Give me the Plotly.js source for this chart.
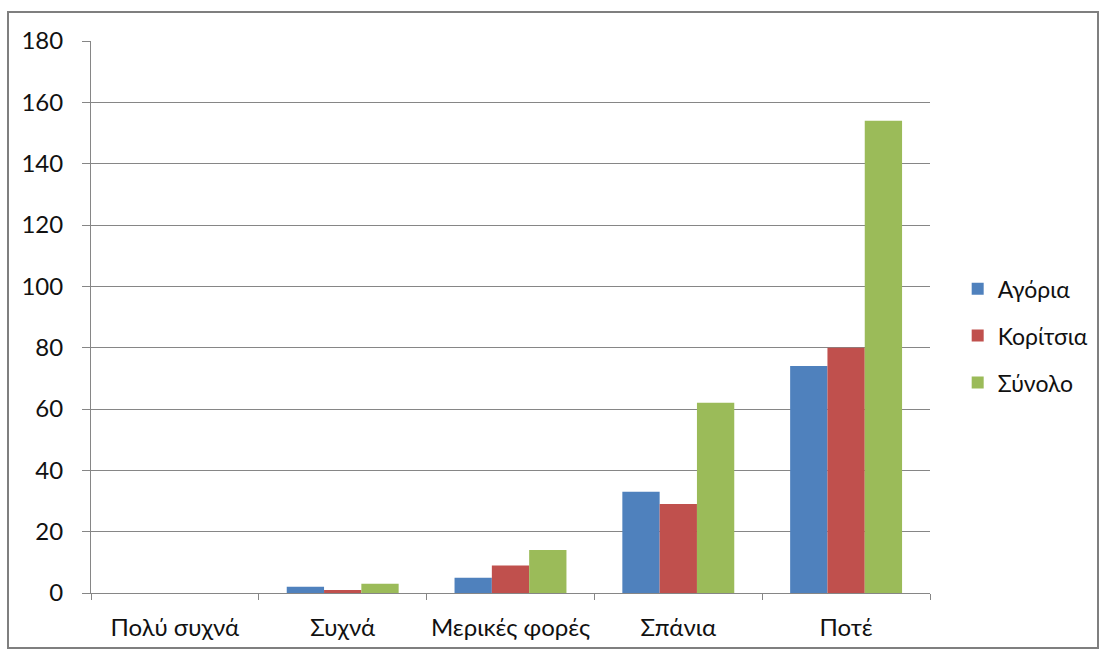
<!DOCTYPE html>
<html>
<head>
<meta charset="utf-8">
<script src="https://cdn.plot.ly/plotly-3.0.1.min.js"></script>
<style>html,body{margin:0;padding:0;background:#fff;} #chart{width:1104px;height:651px;}</style>
</head>
<body>
<div id="chart"></div>
<script>
const categories = ["Πολύ συχνά", "Συχνά", "Μερικές φορές", "Σπάνια", "Ποτέ"];
const seriesNames = ["Αγόρια", "Κορίτσια", "Σύνολο"];
const boys = [0, 2, 5, 33, 74];
const girls = [0, 1, 9, 29, 80];
const total = [0, 3, 14, 62, 154];
const colors = ["#4F81BD", "#C0504D", "#9BBB59"];
const yTicks = [0, 20, 40, 60, 80, 100, 120, 140, 160, 180];

const FONT = "Lato, 'Open Sans', sans-serif";
const FS = 24;
const data = [boys, girls, total].map((vals, i) => ({
  type: "bar",
  name: seriesNames[i],
  x: categories,
  y: vals,
  marker: {color: colors[i], line: {width: 0}},
  legendgroup: "g" + i,
  hoverinfo: "x+y+name"
}));

const layout = {
  width: 1104, height: 651,
  margin: {l: 91, r: 174, t: 41, b: 58, autoexpand: false},
  paper_bgcolor: "#fff", plot_bgcolor: "#fff",
  font: {family: FONT, size: FS, color: "#111"},
  barmode: "group",
  bargap: 0.333,
  bargroupgap: 0,
  showlegend: true,
  legend: {x: 1.033, y: 0.466, xanchor: "left", yanchor: "middle",
           font: {family: FONT, size: 23, color: "#111"},
           tracegroupgap: 14, itemwidth: 30},
  xaxis: {
    type: "category",
    showline: true, linecolor: "#868686", linewidth: 1,
    ticks: "outside", tickson: "boundaries", ticklen: 6, tickcolor: "#868686",
    showgrid: false, zeroline: false, tickangle: 0, automargin: false,
    tickfont: {family: FONT, size: FS, color: "#111"},
    ticklabelstandoff: 13
  },
  yaxis: {
    range: [0, 180], tickvals: yTicks, ticktext: yTicks.map(String),
    showline: true, linecolor: "#868686", linewidth: 1,
    ticks: "outside", ticklen: 8, tickcolor: "#868686",
    showgrid: true, gridcolor: "#868686", gridwidth: 1,
    zeroline: false, automargin: false,
    tickfont: {family: FONT, size: FS, color: "#111"},
    ticklabelstandoff: 14
  },
  shapes: [{
    type: "rect", xref: "paper", yref: "paper",
    x0: (8 - 91) / 839, x1: (1098 - 91) / 839,
    y0: (593 - 648) / 552, y1: (593 - 12) / 552,
    line: {color: "#7f7f7f", width: 2}, fillcolor: "rgba(0,0,0,0)", layer: "below"
  }]
};

Plotly.newPlot("chart", data, layout, {displayModeBar: false, staticPlot: true});
</script>
</body>
</html>
